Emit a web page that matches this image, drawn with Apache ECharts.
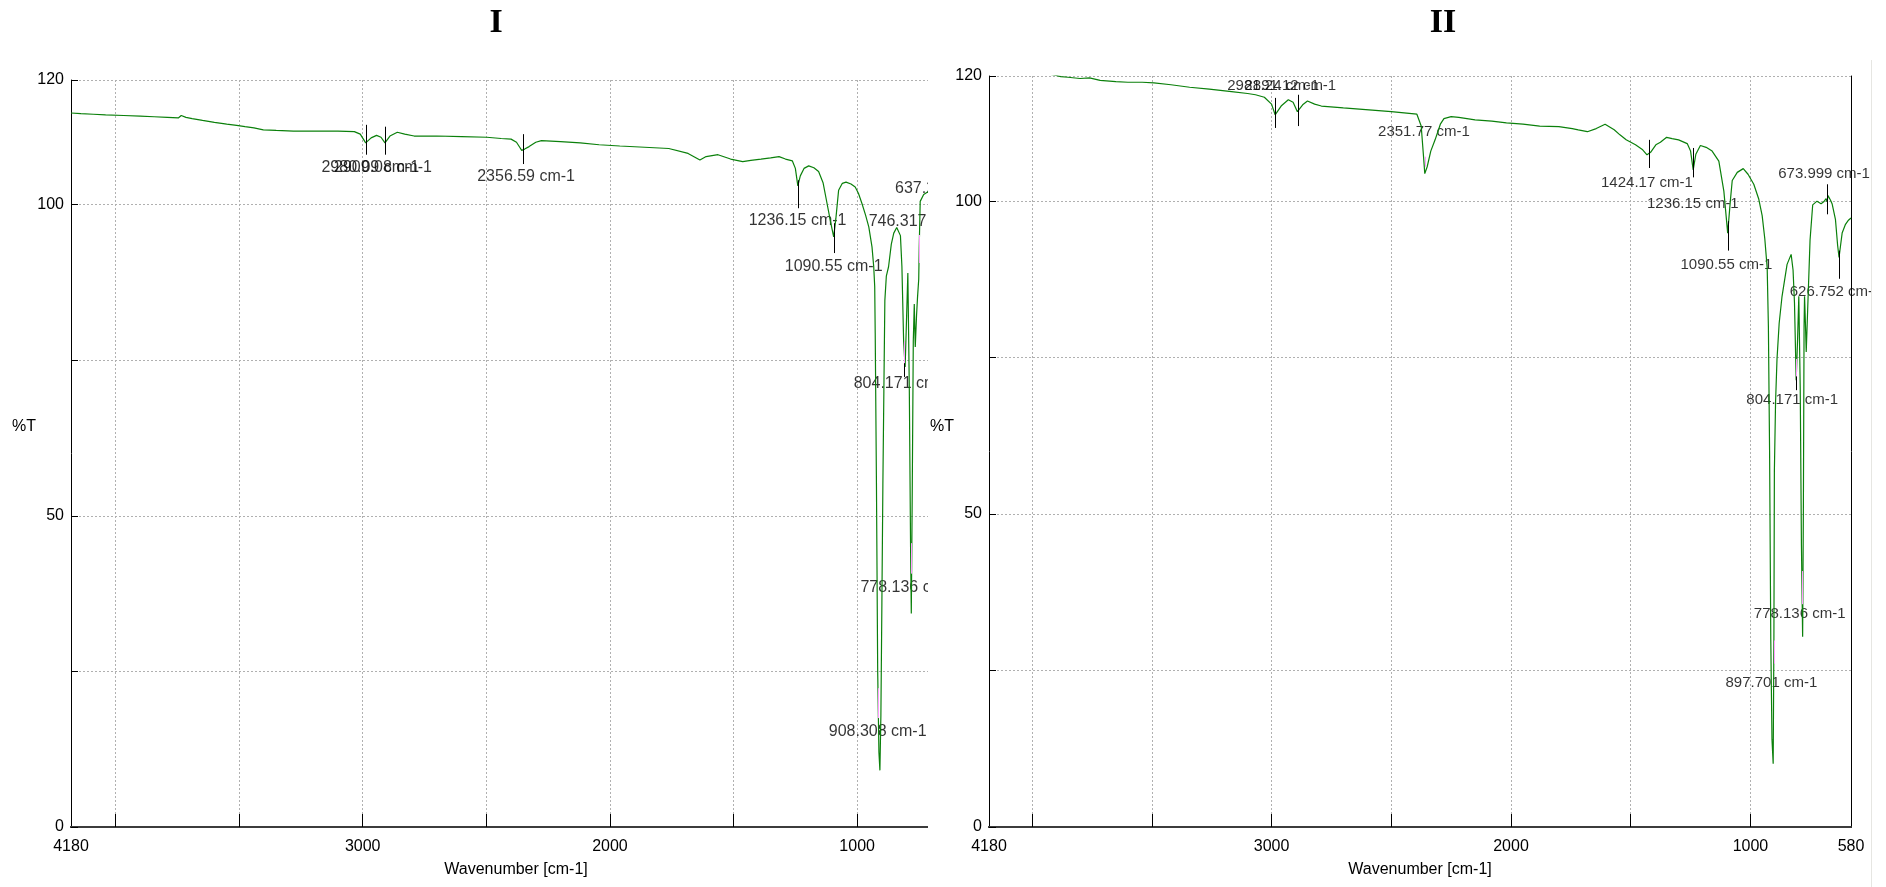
<!DOCTYPE html>
<html>
<head>
<meta charset="utf-8">
<title>FTIR spectra I and II</title>
<script src="https://cdn.jsdelivr.net/npm/echarts@6.0.0/dist/echarts.min.js"></script>
<style>
  html, body { margin: 0; padding: 0; background: #fff; }
  #page { position: relative; width: 1886px; height: 887px; overflow: hidden; background: #fff; }
  .clip { position: absolute; top: 0; height: 887px; overflow: hidden; }
  #clipI { left: 0; width: 928px; }
  #clipII { left: 930px; width: 941px; }
  #chartI { width: 1000px; height: 887px; }
  #chartII { width: 941px; height: 887px; }
  #edge { position: absolute; left: 1871px; top: 60px; width: 1px; height: 827px; background: #e6e6e2; }
</style>
</head>
<body>
<div id="page">
  <div class="clip" id="clipI"><div id="chartI"></div></div>
  <div class="clip" id="clipII"><div id="chartII"></div></div>
  <div id="edge"></div>
</div>
<script>
// axis ticks and labels
var wavenumberTicks = [1000, 1500, 2000, 2500, 3000, 3500, 4000];
var wavenumberLabels = [4180, 3000, 2000, 1000, 580];
var transmittanceLabels = [0, 50, 100, 120];

// spectrum I : [wavenumber, %T]
var spectrumI = [
  [4180,114.7],[4140,114.6],[4090,114.5],[4040,114.4],[3967,114.3],[3900,114.2],[3844,114.1],
  [3790,114.0],[3746,113.9],[3734,114.3],[3715,114.0],[3690,113.8],[3648,113.5],[3600,113.2],
  [3550,112.9],[3510,112.7],[3476,112.5],[3440,112.3],[3402,112.0],[3350,111.9],[3280,111.8],
  [3182,111.8],[3100,111.8],[3034,111.7],[3010,111.3],[2988,109.9],[2966,110.7],[2944,111.1],
  [2926,110.8],[2910,109.9],[2890,111.0],[2860,111.6],[2830,111.3],[2792,111.0],[2700,111.0],
  [2600,110.9],[2498,110.8],[2440,110.6],[2400,110.5],[2378,110.0],[2365,109.2],[2357,108.7],
  [2345,108.9],[2327,109.3],[2300,110.0],[2277,110.25],[2200,110.1],[2120,109.9],[2044,109.6],
  [1960,109.4],[1860,109.2],[1762,109.0],[1684,108.2],[1636,107.15],[1611,107.7],[1563,108.0],
  [1512,107.3],[1463,106.9],[1430,107.1],[1389,107.3],[1350,107.5],[1316,107.7],[1290,107.3],
  [1262,107.0],[1250,105.8],[1240,103.0],[1230,104.6],[1215,105.8],[1196,106.2],[1175,105.9],
  [1156,105.3],[1138,103.5],[1122,100.2],[1108,97.3],[1095,94.8],[1086,97.8],[1075,102.3],
  [1060,103.4],[1045,103.6],[1025,103.3],[1008,102.8],[995,101.8],[981,100.2],[966,98.3],
  [953,96.4],[940,93.2],[933,90.0],[929,86.8],[927,79.3],[922,55],[917,25],[912,12],[908,9.1],
  [904,18],[900,36],[896,55],[892,70],[888,84.6],[882,88.5],[873,90.0],[862,93.6],[852,95.4],
  [840,96.3],[832,96.4],[825,95.0],[819,90.0],[812,78.0],[806,73.9],[800,82],[795,89],[789,70],
  [784,45],[781,34.3],[777,55],[773,78],[769,84],[765,77.1],[760,82],[756,85],[751,88],[749,93],
  [745,100.5],[731,101.6],[715,102.0],[698,102.3],[685,102.6]
];

// spectrum II : [wavenumber, %T]
var spectrumII = [
  [4180,122.0],[4000,120.8],[3900,120.1],[3880,119.9],[3850,119.8],[3800,119.6],[3760,119.7],
  [3716,119.3],[3650,119.1],[3600,119.0],[3540,119.0],[3491,118.9],[3420,118.6],[3342,118.2],
  [3260,117.9],[3167,117.5],[3100,117.2],[3067,117.0],[3030,116.6],[3000,115.5],[2985,113.8],
  [2960,115.2],[2930,116.2],[2910,115.8],[2892,114.3],[2870,115.4],[2850,116.0],[2820,115.5],
  [2792,115.2],[2700,114.9],[2593,114.6],[2500,114.3],[2393,113.9],[2375,112.0],[2365,107.0],
  [2360,104.4],[2350,105.5],[2335,108.0],[2317,109.8],[2295,112.3],[2280,113.2],[2250,113.5],
  [2218,113.4],[2150,113.0],[2080,112.8],[2019,112.5],[1950,112.3],[1880,112.0],[1800,111.9],
  [1744,111.6],[1719,111.4],[1681,111.1],[1644,111.6],[1607,112.3],[1569,111.4],[1545,110.6],
  [1519,109.8],[1480,109.0],[1450,108.2],[1432,107.4],[1417,107.8],[1395,109.0],[1376,109.4],
  [1350,110.2],[1327,110.0],[1300,109.8],[1264,109.2],[1250,108.0],[1239,105.0],[1228,107.5],
  [1209,108.9],[1185,108.6],[1160,108.0],[1132,106.4],[1111,101.6],[1095,94.9],[1084,100.0],
  [1076,103.3],[1055,104.6],[1030,105.2],[1010,104.3],[986,102.7],[965,100.3],[951,97.7],
  [940,94.0],[930,89.3],[925,80],[920,60],[915,30],[910,14],[905,10.1],[902,30],[900,56.9],
  [895,68],[889,74.8],[880,80.5],[868,84.8],[847,89.9],[830,91.5],[822,89],[816,83.7],[809,71.4],
  [803,78],[798,84.8],[792,70],[787,45],[782,30.4],[779,50],[776,80],[774,84.8],[770,80],
  [767,75.9],[761,82.6],[751,93.8],[740,99.4],[722,100.0],[705,99.6],[694,99.9],[684,100.4],
  [680,99.9],[676,100.9],[672,100.7],[665,100.1],[659,99.6],[645,97.1],[636,93.0],[630,91.0],
  [624,92.8],[617,94.9],[603,96.3],[592,96.9],[580,97.3]
];

// peak marker ticks : [wavenumber, top %T, bottom %T]
var peakTicksI = [[2985,112.8,108.0],[2910,112.5,108.0],[2351,111.3,106.5],[1237,103.9,99.4],[1091,97.0,92.2],[809,74.5,72.3]];
var peakTicksII = [[2983,116.5,111.7],[2890,117.0,112.0],[1424,109.8,105.3],[1238,108.5,103.8],[1093,96.8,92.1],[680,102.7,97.9],[628,92.1,87.6],[809,72.0,69.8]];

// pink highlight segments on the trace : [wavenumber, top %T, bottom %T]
var pinkI = [[1237,103.3,101.8],[1093,95.1,94.0],[749,95.1,90.6],[810,78.0,74.5],[781,45.6,40.7],[913,22.3,17.5]];
var pinkII = [[2358,107.1,105.5],[1239,105.5,104.1],[1094,96.3,94.0],[809,74.8,71.4],[783,40.9,35.6],[901,29.8,26.1],[629,91.0,88.2]];

// peak labels : [wavenumber where text starts, %T, text]
var peakTextI = [
  [3167,105.9,'2980.09 cm-1'],[3116,105.9,'2909.08 cm-1'],[2537,104.5,'2356.59 cm-1'],
  [1439,97.4,'1236.15 cm-1'],[1293,90.1,'1090.55 cm-1'],[953.5,97.2,'746.317 cm-1'],
  [847,102.6,'637.233 cm-1'],[1014,71.3,'804.171 cm-1'],[987,38.4,'778.136 cm-1'],
  [1115,15.4,'908.308 cm-1']
];
var peakTextII = [
  [3185,118.5,'2981.24 cm-1'],[3113,118.5,'2891.12 cm-1'],[2555,111.1,'2351.77 cm-1'],
  [1624,102.9,'1424.17 cm-1'],[1432,99.5,'1236.15 cm-1'],[1292,89.8,'1090.55 cm-1'],
  [884,104.3,'673.999 cm-1'],[836,85.5,'626.752 cm-1'],[1017,68.2,'804.171 cm-1'],
  [986,34.0,'778.136 cm-1'],[1104,23.0,'897.701 cm-1']
];

var sansFont = "'Liberation Sans', Arial, sans-serif";
var gridLine = { show: true, lineStyle: { color: '#b0b0b0', width: 1, type: [2, 2] } };

function verticalMarks(list, color) {
  return list.map(function (m) {
    return [
      { coord: [m[0], m[1]], lineStyle: { color: color, width: 1, type: 'solid' } },
      { coord: [m[0], m[2]] }
    ];
  });
}

function buildOption(cfg) {
  return {
    animation: false,
    grid: { left: cfg.left, top: cfg.top, width: cfg.width, height: cfg.height },
    graphic: [
      { type: 'text', x: cfg.titleX, y: 23, silent: true,
        style: { text: cfg.title, fill: '#000', font: "bold 34px 'Liberation Serif', 'Times New Roman', serif",
                 align: 'center', verticalAlign: 'middle', textAlign: 'center', textVerticalAlign: 'middle' } },
      { type: 'text', x: cfg.unitX, y: 427, silent: true,
        style: { text: '%T', fill: '#000', font: '16px ' + sansFont,
                 align: 'center', verticalAlign: 'middle', textAlign: 'center', textVerticalAlign: 'middle' } }
    ],
    xAxis: [
      {
        type: 'value', min: 580, max: 4180, inverse: true, position: 'bottom',
        name: 'Wavenumber [cm-1]', nameLocation: 'middle', nameGap: 35,
        nameTextStyle: { fontFamily: sansFont, fontSize: 16, color: '#000' },
        axisLine: { lineStyle: { color: '#000', width: 2 } },
        axisTick: { inside: true, length: 13, customValues: wavenumberTicks, lineStyle: { color: '#000', width: 1 } },
        axisLabel: {
          customValues: wavenumberLabels, margin: 12, fontFamily: sansFont, fontSize: 16, color: '#000',
          formatter: function (v) { return String(v); }
        },
        splitLine: gridLine
      },
      {
        type: 'value', min: 580, max: 4180, inverse: true, position: 'top',
        axisLine: { lineStyle: { color: '#3c3c3c', width: 2 } },
        axisTick: { show: false }, axisLabel: { show: false }, splitLine: { show: false }
      }
    ],
    yAxis: [
      {
        type: 'value', min: 0, max: 120, interval: 25,
        axisLine: { show: true, lineStyle: { color: '#000', width: 1 } },
        axisTick: { show: true, inside: true, length: 7, lineStyle: { color: '#000' } },
        axisLabel: {
          margin: 7, fontFamily: sansFont, fontSize: 16, color: '#000',
          formatter: function (v) { return transmittanceLabels.indexOf(v) >= 0 ? String(v) : ''; }
        },
        splitLine: gridLine
      },
      {
        type: 'value', min: 0, max: 120, position: 'right', show: cfg.rightBorder,
        axisLine: { show: true, lineStyle: { color: '#000', width: 1 } },
        axisTick: { show: false }, axisLabel: { show: false }, splitLine: { show: false }
      }
    ],
    series: [
      {
        type: 'line', data: cfg.spectrum, symbol: 'none', showSymbol: false,
        lineStyle: { color: '#0b800b', width: 1.2 }, silent: true, clip: true,
        markLine: {
          silent: true, animation: false, symbol: ['none', 'none'],
          label: { show: false }, emphasis: { disabled: true },
          data: verticalMarks(cfg.pink, '#ff9cff').concat(verticalMarks(cfg.ticks, '#000'))
        }
      },
      {
        type: 'scatter', data: cfg.labels, symbolSize: 0, silent: true,
        label: {
          show: true, position: 'right', distance: 0,
          fontFamily: sansFont, fontSize: cfg.peakFont, color: '#000',
          formatter: function (p) { return p.data[2]; }
        }
      }
    ]
  };
}

var chartI = echarts.init(document.getElementById('chartI'));
chartI.setOption(buildOption({
  left: 71, top: 80, width: 890, height: 747,
  title: 'I', titleX: 496, unitX: 24, rightBorder: false, peakFont: 16,
  spectrum: spectrumI, ticks: peakTicksI, pink: pinkI, labels: peakTextI
}));

var chartII = echarts.init(document.getElementById('chartII'));
chartII.setOption(buildOption({
  left: 59, top: 76, width: 862, height: 751,
  title: 'II', titleX: 513, unitX: 12, rightBorder: true, peakFont: 15,
  spectrum: spectrumII, ticks: peakTicksII, pink: pinkII, labels: peakTextII
}));
</script>
</body>
</html>
